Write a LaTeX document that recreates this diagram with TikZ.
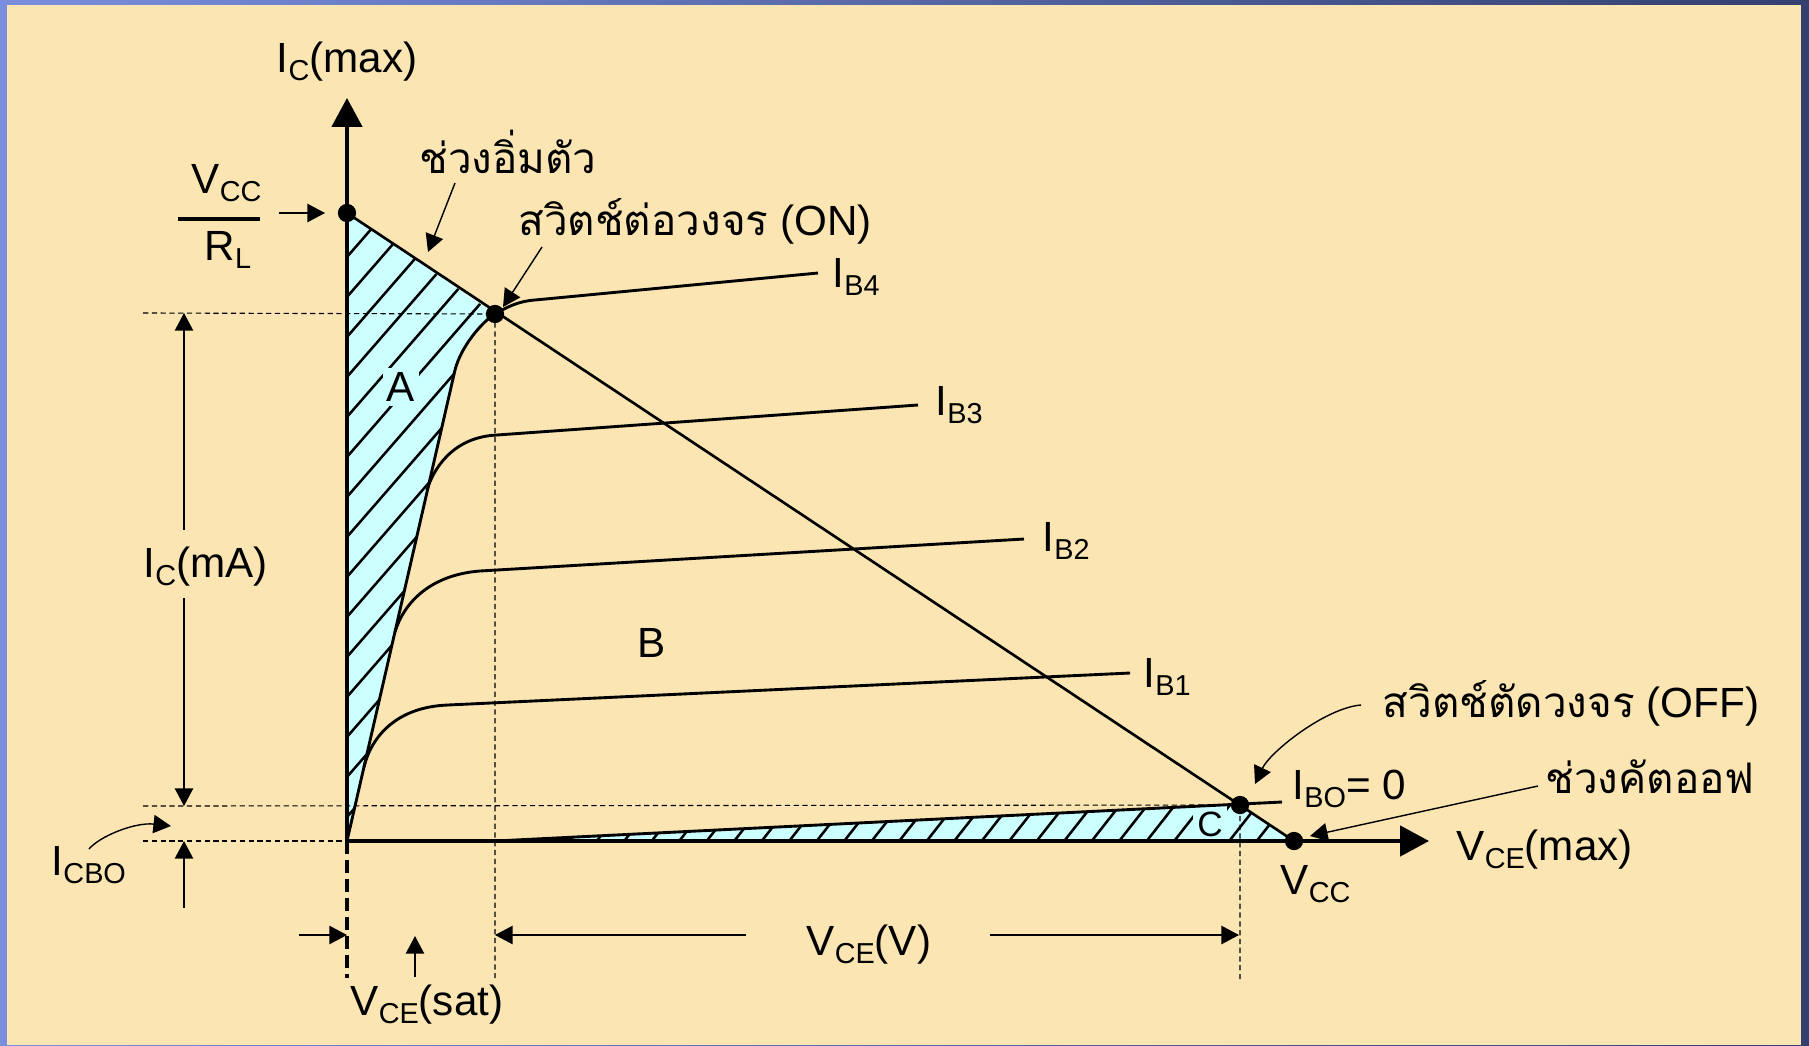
\documentclass[tikz,border=0pt]{standalone}
\usepackage{fontspec}
\setmainfont{Liberation Sans}
\newfontfamily\thaifont[Script=Thai]{Loma}
\usetikzlibrary{arrows.meta}

\definecolor{cream}{RGB}{250,229,179}
\definecolor{icecyan}{RGB}{204,255,255}
\definecolor{frameleft}{RGB}{122,142,222}
\definecolor{frameright}{RGB}{52,64,112}

\newcommand{\lo}[1]{\raisebox{-2.3pt}{\fontsize{8.2pt}{9pt}\selectfont #1}}

\tikzset{
  lab/.style={font=\fontsize{12pt}{14pt}\selectfont, inner sep=0pt},
  region/.style={lab, fill=icecyan, inner sep=1.2pt},
  axis/.style={line width=0.95pt, -{Triangle[length=8.2pt,width=8.6pt]}},
  axisdash/.style={line width=0.95pt, dash pattern=on 3.7pt off 1.7pt},
  curve/.style={line width=0.82pt},
  guide/.style={line width=0.32pt, dash pattern=on 1.5pt off 1pt},
  dim/.style={line width=0.4pt, -{Triangle[length=5pt,width=5.2pt]}},
  hatch/.style={line width=0.72pt},
  dot/.style={circle, fill, inner sep=0pt, minimum size=5.2pt}
}

\begin{document}
\begin{tikzpicture}[x=0.01cm, y=-0.01cm]
  \shade[left color=frameleft, right color=frameright] (0,0) rectangle (1809,1045);
  \fill[cream] (7,5) rectangle (1801,1045);

  \coordinate (O) at (347,841);
  \coordinate (VR) at (347,213);
  \coordinate (K) at (455,370);
  \coordinate (ON) at (495,314);
  \coordinate (OFF) at (1240,805);
  \coordinate (VC) at (1294,841);
  \coordinate (F) at (495,841);

  \begin{scope}
    \clip (VR) -- (O) -- (K) .. controls (461,346) and (483,321) .. (ON) -- cycle;
    \fill[icecyan] (300,200) rectangle (520,850);
    \foreach \y in {257,297,...,817}
      \draw[hatch] (340,\y+8) -- (500,\y-176);
  \end{scope}
  \begin{scope}
    \clip (F) -- (OFF) -- (VC) -- cycle;
    \fill[icecyan] (480,790) rectangle (1300,850);
    \foreach \k in {0,...,28}
      \draw[hatch] ({1252-27.5*\k},847) -- ({1292-27.5*\k},796);
  \end{scope}
  \node[region] (ra) at (401,387) {A};
  \node[region, font=\fontsize{10pt}{12pt}\selectfont] (rc) at (1210,824) {C};
  \node[lab] (rb) at (652,643) {B};

  \draw[guide] (143,313) -- (ON) -- (495,978);
  \draw[guide] (143,806) -- (OFF) -- (1240,979);
  \draw[guide] (143,841) -- (O);
  \draw[axisdash] (O) -- (347,978);

  \draw[axis] (O) -- (347,98);
  \draw[axis] (O) -- (1429,841);
  \draw[curve, line width=0.75pt] (VR) -- (VC);
  \draw[curve] (O) -- (K) .. controls (461,346) and (483,321) .. (ON)
    .. controls (507,307) and (519,301) .. (535,300) -- (818,273) coordinate (b4);
  \draw[curve] (427,490) .. controls (433,470) and (452,437) .. (497,435) -- (918,405) coordinate (b3);
  \draw[curve] (395,632) .. controls (403,605) and (428,575) .. (480,571) -- (1024,539) coordinate (b2);
  \draw[curve] (364,767) .. controls (371,738) and (395,707) .. (448,705) -- (1130,673) coordinate (b1);
  \draw[curve] (F) -- (1282,802) coordinate (b0);

  \node[dot] (vrdot) at (VR) {};
  \node[dot] (ondot) at (ON) {};
  \node[dot] (offdot) at (OFF) {};
  \node[dot] (vcdot) at (VC) {};

  \node[lab, anchor=base] (icmax) at (347,72) {I\lo{C}(max)};
  \node[lab, anchor=base west] (vccf) at (191,193) {V\lo{CC}};
  \node[lab, anchor=base west] (rl) at (204,260) {R\lo{L}};
  \draw[line width=0.95pt] (178,219) -- (260,219);
  \node[lab, anchor=base] (satlab) at (508,173) {\thaifont ช่วงอิ่มตัว};
  \node[lab, anchor=base] (onlab) at (695,235) {{\thaifont สวิตช์ต่อวงจร} (ON)};
  \node[lab, anchor=base west] (ib4) at (832,287) {I\lo{B4}};
  \node[lab, anchor=base west] (ib3) at (935,415) {I\lo{B3}};
  \node[lab, anchor=base west] (ib2) at (1042,551) {I\lo{B2}};
  \node[lab, anchor=base west] (ib1) at (1143,687) {I\lo{B1}};
  \node[lab, anchor=base west] (ibo) at (1292,799) {I\lo{BO}= 0};
  \node[lab, anchor=base] (offlab) at (1571,717) {{\thaifont สวิตช์ตัดวงจร} (OFF)};
  \node[lab, anchor=base] (cutlab) at (1650,793) {\thaifont ช่วงคัตออฟ};
  \node[lab, anchor=base west] (vcemax) at (1456,860) {V\lo{CE}(max)};
  \node[lab, anchor=base west] (vcc) at (1280,894) {V\lo{CC}};
  \node[lab, anchor=base west] (icma) at (143,577) {I\lo{C}(mA)};
  \node[lab, anchor=base west] (icbo) at (51,875) {I\lo{CBO}};
  \node[lab, anchor=base west] (vcesat) at (350,1015) {V\lo{CE}(sat)};
  \node[lab, anchor=base west] (vcev) at (806,955) {V\lo{CE}(V)};

  \draw[dim] (279,213) -- (325,213);
  \draw[dim] (455,183) -- (428,252);
  \draw[dim] (542,247) -- (503,307);
  \draw[dim] (184,530) -- (184,313);
  \draw[dim] (184,598) -- (184,806);
  \draw[dim] (184,908) -- (184,841);
  \draw[dim] (89,849) .. controls (100,836) and (135,822) .. (171,826);
  \draw[dim] (299,935) -- (347,935);
  \draw[dim] (746,935) -- (495,935);
  \draw[dim] (415,977) -- (415,936);
  \draw[dim] (990,935) -- (1239,935);
  \draw[dim] (1361,705) .. controls (1325,708) and (1270,752) .. (1255,784);
  \draw[dim] (1538,786) -- (1310,836);
\end{tikzpicture}
\end{document}
